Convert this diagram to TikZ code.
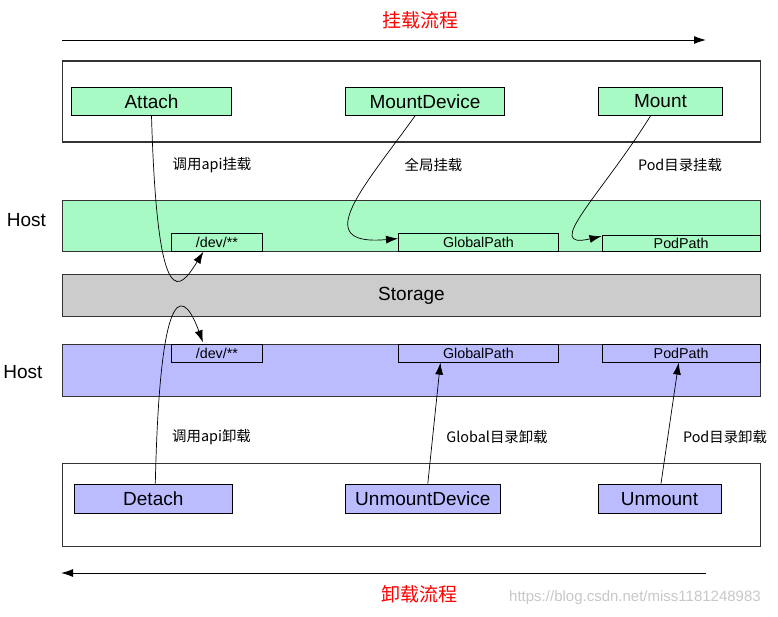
\documentclass[tikz,border=0pt]{standalone}
\usepackage{fontspec}
\setmainfont{Liberation Sans}
\newfontfamily\cjk{Noto Sans CJK SC}
\usetikzlibrary{arrows.meta, positioning}
\definecolor{mgreen}{RGB}{168,250,196}
\definecolor{ublue}{RGB}{187,187,255}
\definecolor{sgray}{RGB}{204,204,204}

\begin{document}
\begin{tikzpicture}[x=1pt, y=-1pt,
    box/.style={draw, line width=0.8pt, minimum height=28pt, inner sep=0pt, font=\fontsize{19}{22}\selectfont},
    mbox/.style={box, fill=mgreen},
    ubox/.style={box, fill=ublue},
    band/.style={draw=black!80, line width=0.8pt, minimum width=698pt, inner sep=0pt},
    pathbox/.style={draw, line width=0.8pt, minimum height=17.5pt, inner sep=0pt, font=\fontsize{14.3}{16}\selectfont},
    lbl/.style={font=\cjk\fontsize{14.4}{16}\selectfont},
    title/.style={font=\cjk\fontsize{19}{22}\selectfont, text=red},
    flow/.style={-{Latex[length=12pt,width=8pt]}, line width=1pt},
    conn/.style={-{Latex[length=12pt,width=8pt]}, line width=0.7pt}]
\useasboundingbox (0,0) rectangle (778,616);

% Mount flow on top
\node[title] (mtitle) at (420,20) {挂载流程};
\coordinate (mstart) at (62,40);
\coordinate (mend) at (706,40);
\draw[flow] (mstart) -- (mend);

% Kubelet calls (mount)
\node[band, minimum height=81pt, line width=1.2pt] (mountarea) at (411.5,101.5) {};
\node[mbox, minimum width=160pt] (attach) at (151.5,101.5) {Attach};
\node[mbox, minimum width=159pt] (mountdev) at (425,101.5) {MountDevice};
\node[mbox, minimum width=124pt] (mount) at (660.5,101.5) {Mount};

\node[lbl] (lattach) at (212,165) {调用api挂载};
\node[lbl] (lmountdev) at (433.5,165) {全局挂载};
\node[lbl] (lmount) at (680,165) {Pod目录挂载};

% Host (mounted)
\node[band, fill=mgreen, minimum height=51pt] (hostup) at (411.5,226.2) {};
\node[font=\fontsize{19}{22}\selectfont] (hostuplbl) at (26.5,220) {Host};
\node[pathbox, fill=mgreen, minimum width=91pt, anchor=south west] (devup) at (171,251.7) {/dev/**};
\node[pathbox, fill=mgreen, minimum width=160pt, anchor=south west] (gup) at (398,251.7) {GlobalPath};
\node[pathbox, fill=mgreen, minimum width=158.5pt, minimum height=15.7pt, anchor=south west] (pup) at (601.5,251.7) {PodPath};

% Storage
\node[band, fill=sgray, minimum height=42.4pt, font=\fontsize{19}{22}\selectfont] (storage) at (411.5,295.5) {Storage};

% Host (unmounted)
\node[band, fill=ublue, minimum height=51.7pt] (hostdown) at (411.5,370.2) {};
\node[font=\fontsize{19}{22}\selectfont] (hostdownlbl) at (23,372) {Host};
\node[pathbox, fill=ublue, minimum width=91pt, anchor=north west] (devdown) at (171,344.3) {/dev/**};
\node[pathbox, fill=ublue, minimum width=160pt, anchor=north west] (gdown) at (398,344.3) {GlobalPath};
\node[pathbox, fill=ublue, minimum width=158.5pt, anchor=north west] (pdown) at (601.5,344.3) {PodPath};

\node[lbl] (ldetach) at (211.5,437) {调用api卸载};
\node[lbl] (lumdev) at (497,437) {Global目录卸载};
\node[lbl] (lumount) at (725,437) {Pod目录卸载};

% Kubelet calls (unmount)
\node[band, minimum height=83pt, line width=1.2pt] (umountarea) at (411.5,505) {};
\node[ubox, minimum width=158pt, minimum height=29.5pt] (detach) at (153.3,498.7) {Detach};
\node[ubox, minimum width=155pt, minimum height=29.5pt] (umdev) at (422.8,498.7) {UnmountDevice};
\node[ubox, minimum width=123pt, minimum height=29.5pt] (umount) at (659.5,498.7) {Unmount};

% Unmount flow at the bottom
\coordinate (ustart) at (706,573);
\coordinate (uend) at (61,573);
\draw[flow] (ustart) -- (uend);
\node[title] (utitle) at (419,594) {卸载流程};
\node[font=\fontsize{15}{17}\selectfont, text=black!22] (wmark) at (635,598) {https://blog.csdn.net/miss1181248983};

% connectors
\draw[conn] (attach.south) .. controls +(6,205) and +(-23,37) .. ([xshift=-13.5pt]devup.south);
\draw[conn] ([xshift=-10pt]mountdev.south) .. controls +(-50,70) and +(-90,8) .. ([yshift=4pt]gup.west);
\draw[conn] ([xshift=-10pt]mount.south) .. controls +(-50,80) and +(-60,14) .. ([yshift=-1pt]pup.north west);
\draw[conn] ([xshift=2pt]detach.north) .. controls +(5,-219) and +(-17,-47) .. ([xshift=-14pt,yshift=2pt]devdown.north);
\draw[conn] ([xshift=5pt]umdev.north) -- ([xshift=-38pt]gdown.south);
\draw[conn] ([xshift=1.5pt]umount.north) -- ([xshift=-2.5pt]pdown.south);
\end{tikzpicture}
\end{document}
